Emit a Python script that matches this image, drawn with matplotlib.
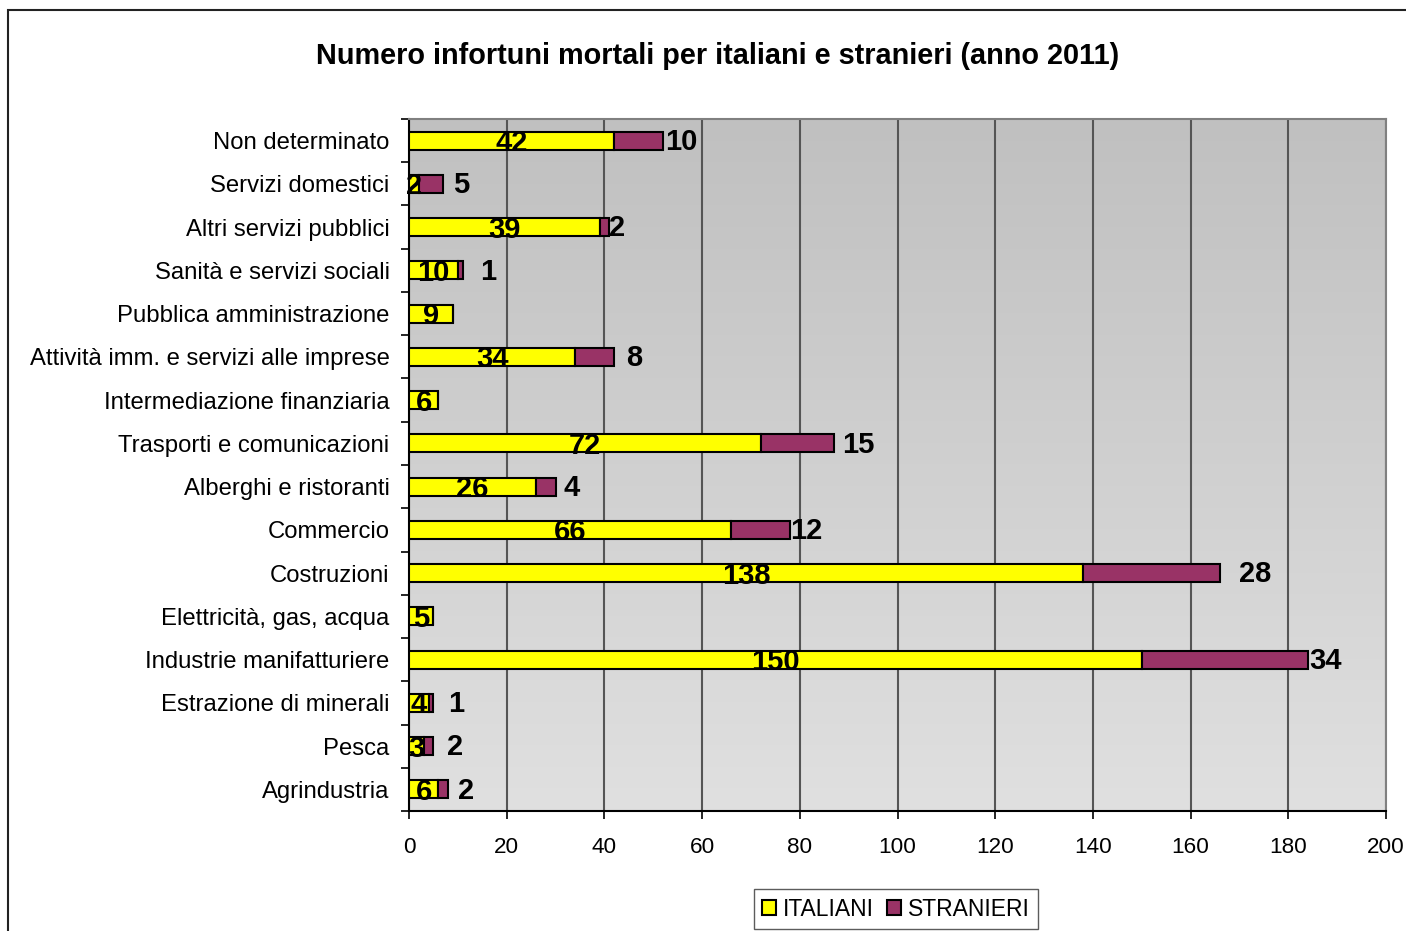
import numpy as np
import matplotlib.pyplot as plt
from matplotlib.patches import Rectangle

plt.rcParams['font.family'] = ['Liberation Sans', 'DejaVu Sans']

settori = ['Agrindustria', 'Pesca', 'Estrazione di minerali', 'Industrie manifatturiere',
           'Elettricità, gas, acqua', 'Costruzioni', 'Commercio', 'Alberghi e ristoranti',
           'Trasporti e comunicazioni', 'Intermediazione finanziaria',
           'Attività imm. e servizi alle imprese', 'Pubblica amministrazione',
           'Sanità e servizi sociali', 'Altri servizi pubblici', 'Servizi domestici',
           'Non determinato']
italiani = [6, 3, 4, 150, 5, 138, 66, 26, 72, 6, 34, 9, 10, 39, 2, 42]
stranieri = [2, 2, 1, 34, 0, 28, 12, 4, 15, 0, 8, 0, 1, 2, 5, 10]

# horizontal offset (points) of the STRANIERI labels past the end of each bar
off_str = [18, 22, 23, 18, 0, 35, 16, 16, 24, 0, 20, 0, 25, 8, 18, 18]

W, H = 1406, 931
fig = plt.figure(figsize=(W / 100, H / 100), dpi=100)
ax = fig.add_axes([409 / W, 1 - 811 / H, (1386 - 409) / W, (811 - 119) / H])

# outer chart frame, runs off the right and bottom edges
fig.patches.append(Rectangle((8 / W, -0.1), 1.2, 1 - 10 / H + 0.1,
                             transform=fig.transFigure, fill=False,
                             ec='#222222', lw=1.5))

# vertical grey gradient behind the plot
grad = np.linspace(0, 1, 256).reshape(-1, 1)
ax.imshow(grad, extent=(0, 200, -0.5, 15.5), aspect='auto', origin='upper',
          cmap=plt.matplotlib.colors.LinearSegmentedColormap.from_list(
              'g', ['#c0c0c0', '#e0e0e0']), zorder=0)

y = np.arange(len(settori))
ita = np.array(italiani)
stra = np.array(stranieri)
h = 0.42
ax.barh(y, ita, height=h, color='#ffff00', edgecolor='black', lw=1.5,
        label='ITALIANI', zorder=3)
ax.barh(y, stra, left=ita, height=h, color='#993366', edgecolor='black', lw=1.5,
        label='STRANIERI', zorder=3)

for i in range(len(settori)):
    ax.text(ita[i] / 2, y[i] - 0.06, str(italiani[i]), ha='center', va='center',
            fontsize=21, fontweight='bold', zorder=5)
    if stranieri[i] > 0:
        ax.annotate(str(stranieri[i]), (ita[i] + stra[i], y[i] - 0.03),
                    xytext=(off_str[i] * 0.72, 0), textcoords='offset points',
                    ha='center', va='center', fontsize=21, fontweight='bold',
                    zorder=5)

ax.set_xlim(0, 200)
ax.set_ylim(-0.5, 15.5)
ax.set_xticks(np.arange(0, 201, 20))
ax.set_yticks(y)
ax.set_yticklabels(settori)
ax.set_yticks(np.arange(-0.5, 16, 1), minor=True)
ax.tick_params(axis='y', which='major', length=0, pad=14, labelsize=17.2)
ax.tick_params(axis='y', which='minor', length=6, width=1.2)
ax.tick_params(axis='x', length=6, width=1.2, pad=13, labelsize=16.2)
ax.grid(axis='x', color='#555555', lw=1.5, zorder=1)
ax.set_axisbelow(True)
for s in ['top', 'right']:
    ax.spines[s].set_color('#808080')
    ax.spines[s].set_linewidth(1.5)
for s in ['left', 'bottom']:
    ax.spines[s].set_linewidth(1.5)

fig.text(718 / W, 1 - 56 / H, 'Numero infortuni mortali per italiani e stranieri (anno 2011)',
         ha='center', va='center', fontsize=20.8, fontweight='bold')

leg = fig.legend(loc='center', bbox_to_anchor=(896 / W, 1 - 909 / H), ncol=2,
                 fontsize=16.5, frameon=True, fancybox=False, edgecolor='#333333',
                 handlelength=0.6, handleheight=0.6, handletextpad=0.3,
                 columnspacing=0.6, borderpad=0.35, borderaxespad=0)
leg.get_frame().set_linewidth(1.0)

fig.savefig('out.png', dpi=100)
